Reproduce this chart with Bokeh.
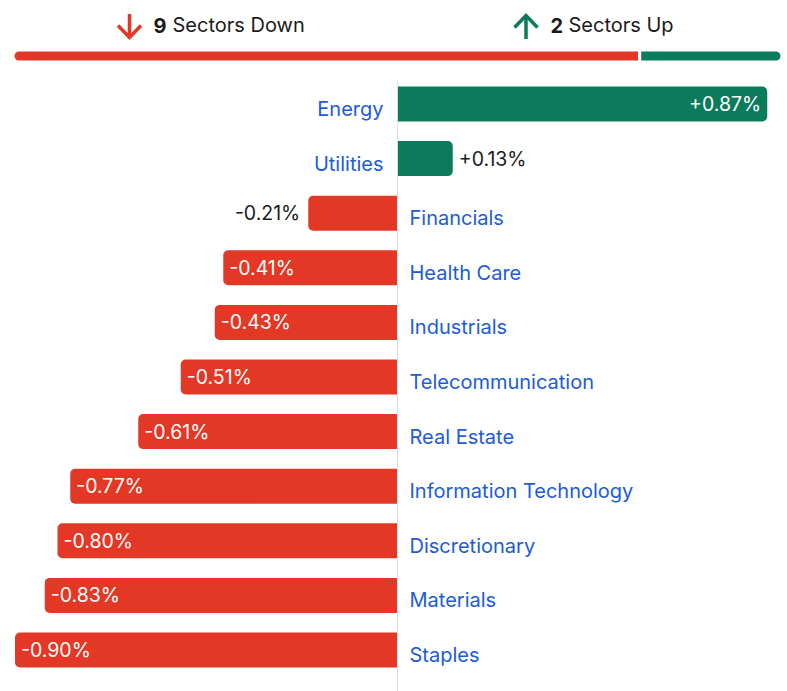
from bokeh.plotting import figure
from bokeh.models import Range1d, ColumnDataSource
from bokeh.embed import file_html
from bokeh.resources import INLINE
from bokeh.core.properties import value

# Daily sector performance, % change
sectors = ["Energy", "Utilities", "Financials", "Health Care", "Industrials",
           "Telecommunication", "Real Estate", "Information Technology",
           "Discretionary", "Materials", "Staples"]
changes = [0.87, 0.13, -0.21, -0.41, -0.43, -0.51, -0.61, -0.77, -0.80, -0.83, -0.90]

RED = "#E33826"
GREEN = "#0B7B5B"
BLUE = "#1C5CD6"
DARK = "#1b1b1b"
FONT = "Inter"

W, H = 787, 691
ZERO_PX = 397          # horizontal position of the zero line
PX_PER_UNIT = 425      # pixels per 1 percentage point
ROW0_PX = 103.5        # centre of the first row
ROW_PX = 54.6          # row pitch


def xd(px):
    return (px - ZERO_PX) / PX_PER_UNIT


def yd(px):
    return (px - ROW0_PX) / ROW_PX


p = figure(width=W, height=H,
           x_range=Range1d(xd(0), xd(W)), y_range=Range1d(yd(H), yd(0)),
           x_axis_type=None, y_axis_type=None,
           output_backend="svg", toolbar_location=None,
           min_border=0, min_border_left=0, min_border_right=0,
           min_border_top=0, min_border_bottom=0)
p.grid.visible = False
p.outline_line_color = None
p.background_fill_color = "white"
p.border_fill_color = "white"

rows = list(range(len(sectors)))
BAR_H = 35 / ROW_PX

pos = ColumnDataSource(dict(row=[r for r, v in zip(rows, changes) if v >= 0],
                            v=[v for v in changes if v >= 0]))
neg = ColumnDataSource(dict(row=[r for r, v in zip(rows, changes) if v < 0],
                            v=[v for v in changes if v < 0]))

p.hbar(y="row", left=0, right="v", height=BAR_H, source=pos,
       fill_color=GREEN, line_color=None, border_radius=(0, 5, 5, 0))
p.hbar(y="row", left=0, right="v", height=BAR_H, source=neg,
       fill_color=RED, line_color=None, border_radius=(5, 0, 0, 5))

# zero line
p.segment(x0=[0], y0=[yd(80)], x1=[0], y1=[yd(H)], line_color="#dcdcdc", line_width=1)

# sector names on the opposite side of the bar
name_src = ColumnDataSource(dict(
    row=rows, text=sectors,
    align=["right" if v >= 0 else "left" for v in changes],
    off=[-14 if v >= 0 else 12 for v in changes],
))
p.text(x=0, y="row", text="text", source=name_src, text_align="align",
       x_offset="off", y_offset=5, text_baseline="middle",
       text_color=BLUE, text_font=value(FONT), text_font_size="20px")

# value labels: inside the bar when it is long enough, outside otherwise
val_align, val_off, val_col = [], [], []
for v in changes:
    inside = abs(v) > 0.25
    if v >= 0:
        val_align.append("right" if inside else "left")
        val_off.append(-6 if inside else 6)
    else:
        val_align.append("left" if inside else "right")
        val_off.append(6 if inside else -8)
    val_col.append("white" if inside else DARK)

val_src = ColumnDataSource(dict(
    row=rows, x=changes, text=[f"{v:+.2f}%" for v in changes],
    align=val_align, off=val_off, col=val_col,
))
p.text(x="x", y="row", text="text", source=val_src, text_align="align",
       x_offset="off", y_offset=0, text_baseline="middle",
       text_color="col", text_font=value(FONT), text_font_size="19.5px")

# header: count summary and proportion bar
n_down = sum(1 for v in changes if v < 0)
n_up = sum(1 for v in changes if v >= 0)

bar_l, bar_r = xd(14), xd(780)
split = bar_l + (bar_r - bar_l) * n_down / (n_down + n_up)
gap = 1.6 / PX_PER_UNIT
hy, hh = yd(55.5), 9 / ROW_PX
p.hbar(y=[hy], left=[bar_l], right=[split - 2 * gap], height=hh,
       fill_color=RED, line_color=None, border_radius=(5, 0, 0, 5))
p.hbar(y=[hy], left=[split], right=[bar_r], height=hh,
       fill_color=GREEN, line_color=None, border_radius=(0, 5, 5, 0))


def arrow(cx, top, bottom, down, color):
    tip = bottom if down else top
    tail = top if down else bottom
    arm = 12 if down else -12
    xs = [[xd(cx), xd(cx)], [xd(cx - 11.5), xd(cx), xd(cx + 11.5)]]
    ys = [[yd(tail), yd(tip - (1.5 if down else -1.5))],
          [yd(tip - arm), yd(tip), yd(tip - arm)]]
    p.multi_line(xs=xs, ys=ys, line_color=color, line_width=3.5,
                 line_join="miter", line_cap="butt")


arrow(129, 13.5, 37, True, RED)
arrow(525.5, 15, 38.5, False, GREEN)

head = dict(y=yd(24.5), text_baseline="middle", text_color=DARK,
            text_font=value(FONT), text_font_size="20px")
p.text(x=[xd(153)], text=[str(n_down)], text_font_style="bold", **head)
p.text(x=[xd(172)], text=["Sectors Down"], **head)
p.text(x=[xd(550)], text=[str(n_up)], text_font_style="bold", **head)
p.text(x=[xd(568)], text=["Sectors Up"], **head)

open("out.html", "w").write(file_html(p, INLINE))
